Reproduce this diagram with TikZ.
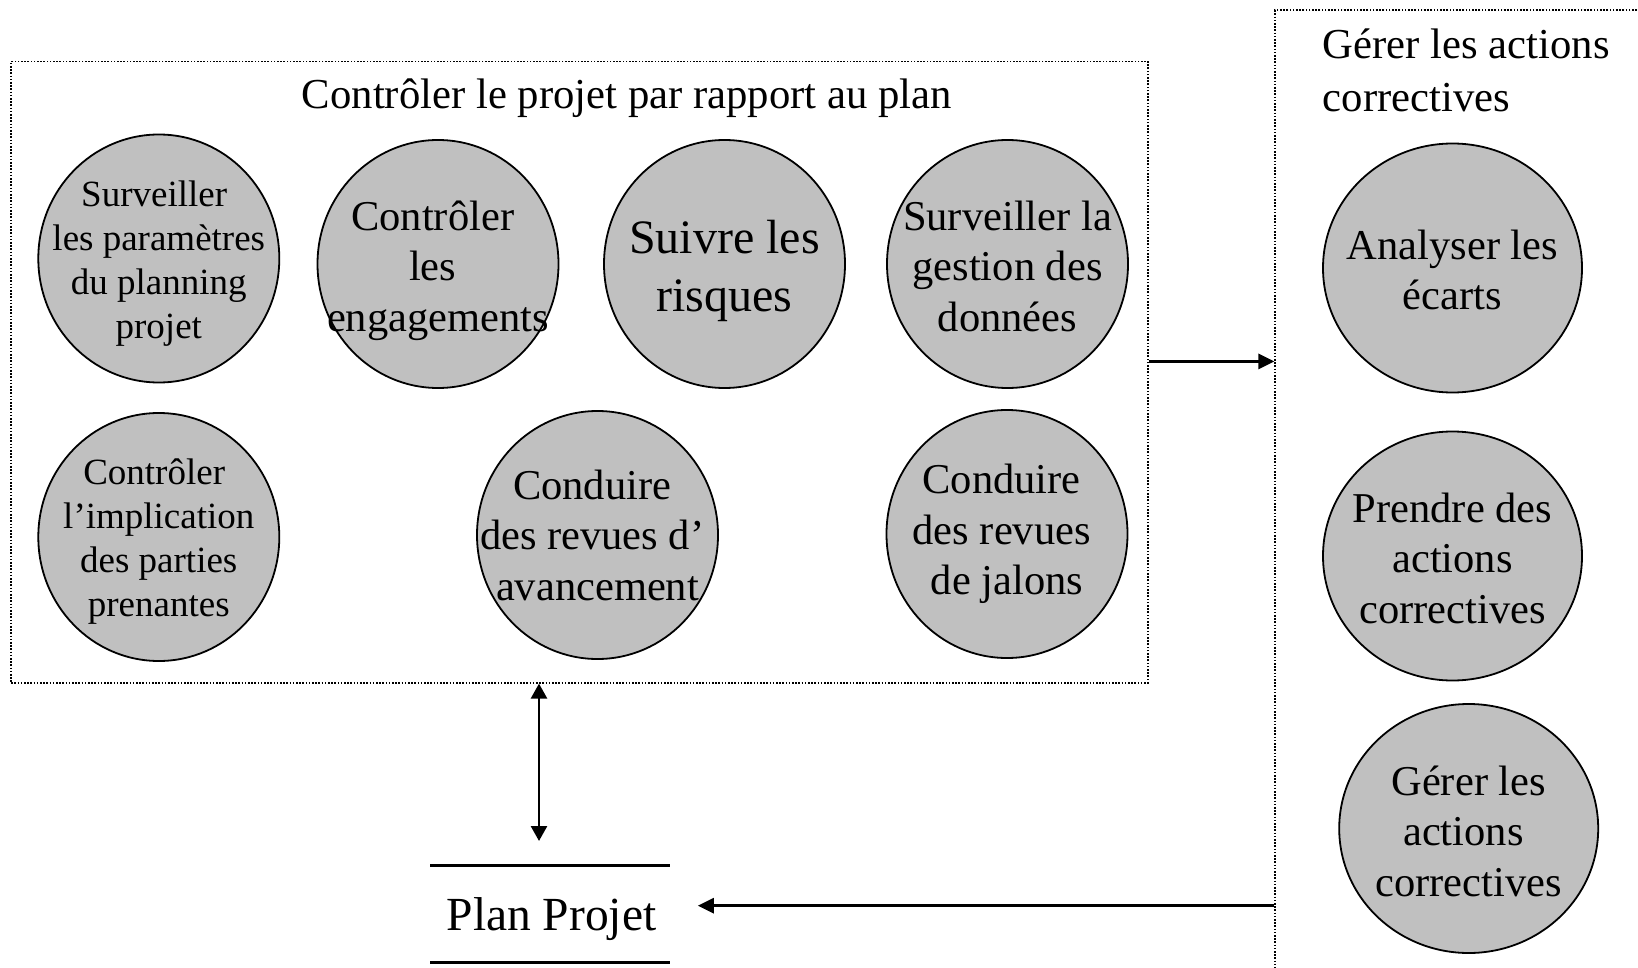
\documentclass[tikz,border=0pt]{standalone}
\usepackage{fontspec}
\setmainfont{Liberation Serif}
\usetikzlibrary{arrows.meta,shapes.geometric}
\definecolor{bubblegray}{HTML}{C0C0C0}
% a word space kept at the end of a centred line
\newcommand{\trailsp}{\hbox to 0.25em{}}
\begin{document}
\begin{tikzpicture}[x=1pt,y=-1pt,
  bubble/.style={ellipse,draw=black,line width=1.8pt,fill=bubblegray,inner sep=0pt,
    minimum width=241pt,minimum height=248pt},
  widebubble/.style={bubble,minimum width=259pt,minimum height=249pt},
  txt/.style={align=center,inner sep=0pt,font=\fontsize{42.5}{50.5}\selectfont},
  smalltxt/.style={txt,font=\fontsize{37}{44}\selectfont},
  bigtxt/.style={txt,font=\fontsize{48}{58}\selectfont},
  headtxt/.style={inner sep=0pt,font=\fontsize{42.7}{53}\selectfont},
  frame/.style={draw=black,line width=1.6pt,dash pattern=on 1.6pt off 1.6pt,inner sep=0pt},
  flow/.style={line width=2.8pt,-{Triangle[length=16pt,width=15pt]}},
  dflow/.style={line width=2.6pt,{Triangle[length=15pt,width=16pt]}-{Triangle[length=15pt,width=16pt]}},
  storeline/.style={line width=3pt},
]
\clip (0,0) rectangle (1638,968);
\fill[white] (0,0) rectangle (1638,968);

% group frames
\node[frame,anchor=north west,minimum width=1136.6pt,minimum height=621.4pt] (ctrl) at (10.4,60.6) {};
\node[frame,anchor=north west,minimum width=420pt,minimum height=1000pt] (gest) at (1274.4,9.4) {};

% group titles
\node[headtxt,anchor=base] (ctrlt) at (626.8,108.5) {Contrôler le projet par rapport au plan};
\node[headtxt,anchor=north west,align=left] (gestt) at (1322.5,28.5) {Gérer les actions\\correctives};

% activities of the control group
\node[bubble] (c1) at (158.8,258.5) {};
\node[smalltxt] (c1t) at ([yshift=-5pt]c1.center) {Surveiller\trailsp\\les paramètres\\du planning\\projet};
\node[bubble] (c2) at (438,264) {};
\node[txt] (c2t) at ([yshift=-6.5pt]c2.center) {Contrôler\trailsp\\les\trailsp\\engagements};
\node[bubble] (c3) at (724.5,264) {};
\node[bigtxt] (c3t) at ([yshift=-7pt]c3.center) {Suivre les\\risques};
\node[bubble] (c4) at (1007.5,264) {};
\node[txt] (c4t) at ([yshift=-2pt]c4.center) {Surveiller la\\gestion des\\données};
\node[bubble] (c5) at (158.8,537) {};
\node[smalltxt] (c5t) at ([yshift=-5pt]c5.center) {Contrôler\trailsp\\l’implication\\des parties\\prenantes};
\node[bubble] (c6) at (597.5,535) {};
\node[txt] (c6t) at (c6) {Conduire\trailsp\\des revues d’\trailsp\\avancement};
\node[bubble] (c7) at (1007,534) {};
\node[txt] (c7t) at (c7) {Conduire\trailsp\\des revues\trailsp\\de jalons};

% activities of the corrective-action group
\node[widebubble] (g1) at (1452.5,268) {};
\node[txt] (g1t) at ([yshift=-2pt]g1.center) {Analyser les\\écarts};
\node[widebubble] (g2) at (1452.5,556) {};
\node[txt] (g2t) at ([yshift=-2pt]g2.center) {Prendre des\\actions\\correctives};
\node[widebubble] (g3) at (1468.7,828.5) {};
\node[txt] (g3t) at ([yshift=-2.5pt]g3.center) {Gérer les\\actions\trailsp\\correctives};

% project plan data store
\node[inner sep=0pt,font=\fontsize{47.5}{56}\selectfont] (plan) at (551.5,919) {Plan Projet};
\draw[storeline] (430,865) -- (670,865);
\draw[storeline] (430,962) -- (670,962);
\coordinate (planin) at (539,841);
\coordinate (planout) at (697.8,905.7);

% flows
\draw[flow] (ctrl.east |- 0,361.4) -- (gest.west |- 0,361.4);
\draw[flow] (gest.west |- planout) -- (planout);
\draw[dflow] (ctrl.south -| planin) -- (planin);
\end{tikzpicture}
\end{document}
